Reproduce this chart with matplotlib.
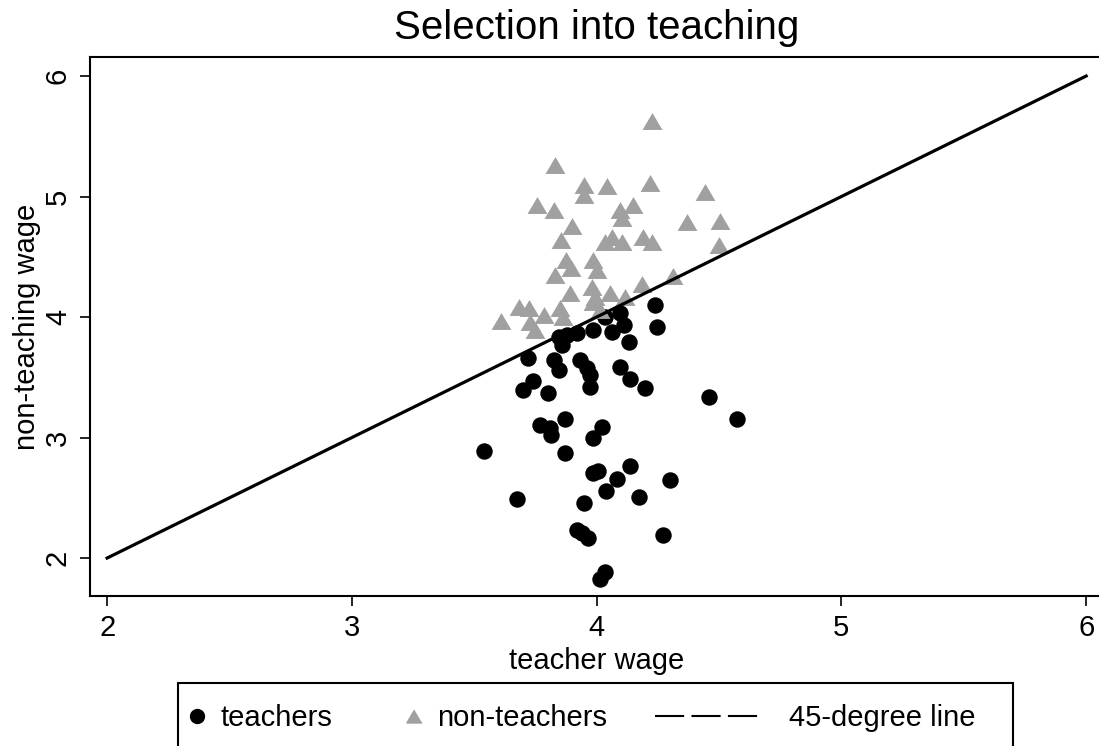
import matplotlib
matplotlib.use("Agg")
import matplotlib.pyplot as plt
from matplotlib.lines import Line2D
from matplotlib.patches import Rectangle

# Data
teacher_wage = [4.239, 4.248, 4.133, 4.096, 4.110, 4.062, 4.035, 3.987, 3.919, 3.878,
                3.858, 3.845, 3.721, 3.824, 3.845, 3.933, 3.960, 3.973, 3.973, 4.096,
                4.137, 4.198, 3.739, 3.698, 3.803, 4.458, 4.575, 3.769, 3.810, 3.813,
                3.869, 4.021, 3.984, 3.538, 3.869, 3.987, 4.007, 4.137, 4.085, 4.039,
                4.300, 4.175, 3.674, 3.950, 3.919, 3.939, 3.966, 4.273, 4.035, 4.014]
teacher_alt = [4.100, 3.920, 3.795, 4.031, 3.934, 3.879, 4.003, 3.892, 3.865, 3.851,
               3.768, 3.835, 3.657, 3.643, 3.560, 3.643, 3.574, 3.519, 3.417, 3.587,
               3.486, 3.413, 3.471, 3.394, 3.372, 3.339, 3.156, 3.104, 3.076, 3.021,
               3.151, 3.085, 2.993, 2.891, 2.869, 2.703, 2.725, 2.763, 2.656, 2.559,
               2.647, 2.504, 2.490, 2.454, 2.232, 2.205, 2.163, 2.191, 1.886, 1.823]

nonteacher_wage = [4.227, 3.828, 3.949, 3.949, 4.044, 4.219, 4.442, 3.758, 3.824, 4.096,
                   4.149, 4.103, 3.901, 4.368, 4.504, 3.853, 4.035, 4.063, 4.103, 4.191,
                   4.228, 4.502, 3.875, 3.894, 3.987, 4.003, 3.829, 4.314, 4.186, 3.892,
                   3.983, 3.994, 4.055, 4.116, 3.681, 3.722, 3.783, 3.851, 3.864, 3.728,
                   3.608, 3.749, 4.014, 3.987]
nonteacher_alt = [5.629, 5.259, 5.098, 5.015, 5.090, 5.110, 5.035, 4.932, 4.891, 4.888,
                  4.930, 4.820, 4.758, 4.786, 4.800, 4.642, 4.625, 4.666, 4.625, 4.664,
                  4.620, 4.598, 4.473, 4.404, 4.473, 4.390, 4.349, 4.343, 4.277, 4.197,
                  4.252, 4.169, 4.197, 4.169, 4.086, 4.072, 4.017, 4.072, 4.003, 3.961,
                  3.970, 3.892, 4.058, 4.128]

line_ends = [2, 6]
ticks = [2, 3, 4, 5, 6]
legend_labels = ['teachers', 'non-teachers', '45-degree line']

plt.rcParams['font.family'] = ['Liberation Sans', 'DejaVu Sans']

W, H = 1099, 746
GRAY = '#a0a0a0'
tri = [(0, 0.85), (-1, -0.85), (1, -0.85)]

# 244.75 px per unit on x; the plot region runs past the right edge of the image
x_lo, x_hi = 1.93, 6.30
fig = plt.figure(figsize=(W / 100, H / 100), dpi=100)
ax = fig.add_axes([90 / W, 150 / H, (x_hi - x_lo) * 244.75 / W, 539 / H])

ax.scatter(teacher_wage, teacher_alt, s=140, color='black', marker='o',
           linewidths=0, zorder=3)
ax.scatter(nonteacher_wage, nonteacher_alt, s=205, color=GRAY, marker=tri,
           linewidths=0, zorder=3)
ax.plot(line_ends, line_ends, color='black', lw=2.3, zorder=4)

ax.set_xlim(x_lo, x_hi)
ax.set_ylim(1.685, 6.158)
ax.set_xticks(ticks)
ax.set_yticks(ticks)
ax.tick_params(axis='both', labelsize=21, length=7, width=1.2, pad=6)
for lab in ax.get_yticklabels():
    lab.set_rotation(90)
    lab.set_va('center')
for sp in ax.spines.values():
    sp.set_linewidth(1.5)
ax.spines['right'].set_visible(False)

ax.set_xlabel('teacher wage', fontsize=21, labelpad=2)
ax.xaxis.set_label_coords((597 - 90) / ((x_hi - x_lo) * 244.75), -0.095)
ax.set_ylabel('non-teaching wage', fontsize=21, labelpad=2)
fig.text(596.5 / W, 1 - 28 / H, 'Selection into teaching', fontsize=29,
         ha='center', va='center')

# legend box, one row of keys (bottom edge runs off the canvas like the original)
fig.patches.append(Rectangle((178 / W, -8 / H), 835 / W, 71 / H,
                             transform=fig.transFigure, fill=False,
                             edgecolor='black', lw=1.5))

keys = [
    Line2D([], [], marker='o', ls='none', color='black', markersize=10),
    Line2D([], [], marker=tri, ls='none', color=GRAY, markersize=11),
    Line2D([], [], color='black', lw=1.5, ls=(0, (14, 3.5))),
]
key_x = [188, 405, 655]
key_len = [0.6, 0.6, 3.6]
key_pad = [0.5, 0.5, 1.0]
for k, lab, x0, hl, hp in zip(keys, legend_labels, key_x, key_len, key_pad):
    fig.legend([k], [lab], loc='center left', bbox_to_anchor=(x0 / W, 28 / H),
               fontsize=21, frameon=False, handlelength=hl, handletextpad=hp,
               borderpad=0, borderaxespad=0)

fig.savefig('out.png', dpi=100)
